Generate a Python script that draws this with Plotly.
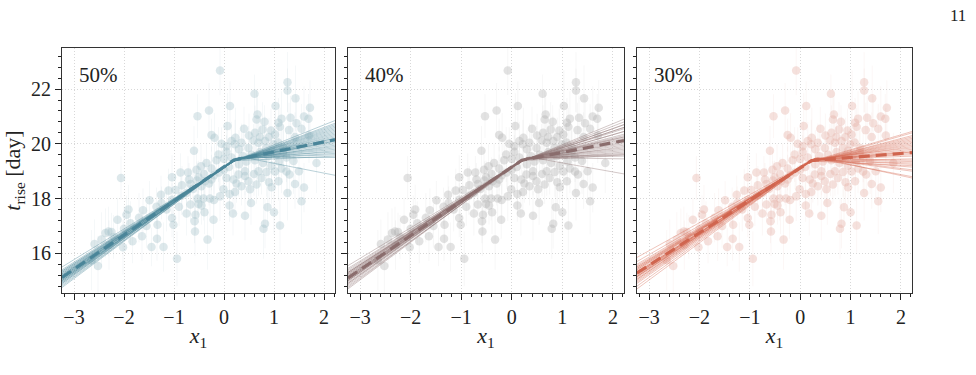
import plotly.graph_objects as go

# ---------------- data ----------------
panel_labels = ["50%", "40%", "30%"]
x_ticks = [-3, -2, -1, 0, 1, 2]
y_ticks = [16, 18, 20, 22]
x_range = [-3.24, 2.22]
y_range = [14.55, 23.5]

x1 = [
    -0.08, 1.27, 1.27, 1.43, 0.61, -0.30, 0.12, -0.53, 1.03, 1.72,
    1.69, 0.67, 0.65, 1.33, 0.81, 1.15, 1.09, 1.12, 0.07, 0.94,
    -0.25, -0.19, 0.77, 0.90, 1.02, 0.23, 0.22, 0.59, 0.49, 0.69,
    0.35, 0.05, 0.05, -0.11, -0.46, -0.35, 1.39, 1.42, 0.85, 0.99,
    1.19, -0.60,
    1.55, 1.12, 0.82, 0.79, 1.00, 0.87, 0.42, 0.11, 0.54, 1.27,
    1.42, -0.21, -0.39, -0.33, -0.58, 1.09, 0.95, 1.31, 0.65, 0.69,
    0.52, 0.22, 0.11, -0.01, -0.08, -0.28, -0.41, -0.53, 0.42, 0.29,
    0.85, 1.02, 1.25, 0.19, 0.05, 0.49, -0.51, -0.38, -0.25, 0.42,
    -2.06, -0.87, -0.72, -1.04, -0.84, -0.67, -0.54, -1.11, -0.97, -1.26,
    -1.25, -1.49, -1.62, -1.91, -1.95, -2.13, -2.31, -2.25, -1.87, -1.64,
    -1.83, -2.02, -1.45, -1.21, -1.34, -1.33, -0.94, -2.59, -2.52, -1.04,
    -1.01, -1.04, -0.57, -0.59, -0.67, -0.51, -2.37, -2.21,
    -0.75, -0.62, -0.45, -0.30, -0.20, -0.10, 0.00, 0.10, -0.40, -0.55,
    -0.25, -0.15, 0.00, 0.15, 0.30, 0.38, 0.45, 0.55, 0.62, 0.72,
    0.78, 0.88, 0.95, 1.05, 1.10, 1.18, 1.25, 0.30, 0.50, 0.62,
    0.72, 0.82, 0.95, 1.08, 1.30, 0.40, 0.15, -0.05, 0.25, 0.60,
    0.75, 0.35, 0.90, 1.15, 1.50, 1.60, -0.85, -0.70, -1.15, -1.35,
    -1.70, -1.55, -2.45, -2.65, -2.30, -2.00, -0.90, -0.75, -0.45, -0.20,
    0.18, 1.85, 1.70, 1.55, 1.45, 1.60,
]
t_rise = [
    22.68, 22.25, 21.95, 21.66, 21.83, 21.22, 21.38, 21.01, 21.38, 21.32,
    20.92, 21.07, 20.89, 20.95, 20.81, 20.92, 20.77, 20.62, 20.65, 20.49,
    20.32, 20.22, 20.52, 20.25, 20.34, 20.22, 19.98, 20.12, 19.85, 20.04,
    20.04, 19.91, 19.71, 19.61, 19.18, 19.30, 19.37, 20.25, 19.85, 19.98,
    19.85, 19.75,
    17.90, 17.02, 17.08, 16.90, 17.50, 17.68, 17.37, 17.75, 17.84, 18.20,
    18.53, 17.23, 17.50, 16.50, 16.80, 18.63, 18.41, 18.88, 18.51, 19.00,
    18.34, 18.24, 18.17, 18.34, 18.08, 18.00, 18.00, 18.00, 18.82, 18.88,
    18.97, 18.99, 18.99, 18.70, 18.75, 18.63, 18.78, 18.63, 18.70, 19.00,
    18.75, 18.95, 18.95, 18.78, 18.49, 18.53, 18.66, 18.29, 18.31, 18.14,
    17.84, 17.94, 17.57, 17.60, 17.41, 17.23, 16.80, 16.78, 17.10, 16.62,
    16.44, 16.22, 16.23, 16.23, 16.53, 17.04, 15.80, 16.34, 15.54, 17.29,
    17.04, 17.96, 17.41, 17.17, 17.78, 17.80, 16.74, 16.60,
    18.20, 18.35, 18.45, 18.55, 18.85, 18.95, 19.05, 19.15, 18.90, 19.05,
    19.10, 19.40, 19.45, 19.50, 19.25, 19.55, 19.35, 19.60, 19.40, 19.70,
    19.30, 19.55, 19.20, 19.60, 19.35, 19.70, 19.50, 19.80, 20.30, 20.40,
    20.25, 20.10, 19.75, 20.05, 20.50, 20.55, 20.10, 20.00, 18.55, 18.90,
    18.75, 18.45, 18.60, 19.10, 19.00, 18.40, 18.10, 18.70, 17.60, 17.70,
    17.30, 17.00, 16.50, 15.75, 16.30, 16.90, 17.70, 17.45, 17.75, 17.95,
    17.45, 19.30, 20.30, 20.55, 20.75, 21.00,
]
t_err = [
    0.9, 1.1, 0.8, 1.2, 0.7, 1.0, 0.9, 0.8, 1.3, 1.0,
    0.9, 0.7, 1.1, 0.8, 0.6, 1.0, 0.9, 0.7, 1.2, 0.8,
    0.6, 0.9, 1.0, 0.7, 0.8, 1.1, 0.9, 0.6, 0.8, 1.0,
    0.7, 0.9, 0.6, 1.0, 0.8, 0.7, 1.2, 0.9, 0.8, 0.6,
    0.7, 0.9,
    1.2, 1.0, 0.9, 1.1, 0.8, 0.7, 0.9, 0.6, 0.8, 1.0,
    0.9, 0.7, 0.8, 1.1, 0.9, 0.7, 0.6, 0.8, 0.7, 0.9,
    0.6, 0.8, 0.7, 0.6, 0.9, 0.7, 0.8, 0.6, 0.7, 0.8,
    0.9, 0.7, 0.8, 0.6, 0.7, 0.8, 0.6, 0.7, 0.9, 0.6,
    0.8, 0.7, 0.6, 0.8, 0.7, 0.6, 0.7, 0.8, 0.6, 0.7,
    0.6, 0.7, 0.8, 0.9, 0.7, 0.8, 0.9, 0.7, 0.8, 0.9,
    0.8, 1.0, 0.7, 0.9, 0.8, 0.7, 1.0, 0.9, 1.1, 0.7,
    0.8, 0.6, 0.7, 0.8, 0.6, 0.7, 0.9, 0.8,
    0.6, 0.7, 0.6, 0.8, 0.7, 0.6, 0.7, 0.8, 0.6, 0.7,
    0.8, 0.7, 0.6, 0.8, 0.7, 0.9, 0.7, 0.8, 0.6, 0.9,
    0.7, 0.8, 0.6, 0.9, 0.7, 0.8, 0.9, 0.7, 0.8, 1.0,
    0.7, 0.9, 0.8, 0.7, 1.0, 0.8, 0.7, 0.6, 0.7, 0.8,
    0.6, 0.7, 0.8, 0.9, 1.0, 0.9, 0.7, 0.6, 0.8, 0.7,
    0.9, 0.8, 1.0, 1.1, 0.9, 0.8, 0.7, 0.8, 0.7, 0.6,
    0.8, 1.1, 1.0, 0.9, 1.0, 1.1,
]

# posterior-sample broken lines: y at left edge, break x, break y, y at right edge
s50_yl = [15.10, 14.95, 15.25, 15.00, 15.35, 14.85, 15.20, 15.05, 15.40, 14.90,
          15.15, 15.30, 14.80, 15.00, 15.20, 15.10, 15.50, 14.95, 15.25, 15.05,
          14.75, 15.15, 15.35, 15.00, 15.10, 15.20, 14.90, 15.30, 15.05, 15.15]
s50_xb = [0.20, 0.15, 0.25, 0.10, 0.30, 0.20, 0.18, 0.22, 0.28, 0.12,
          0.20, 0.24, 0.16, 0.30, 0.20, 0.10, 0.35, 0.22, 0.18, 0.26,
          0.14, 0.20, 0.30, 0.24, 0.16, 0.20, 0.12, 0.28, 0.22, 0.18]
s50_yb = [19.40, 19.35, 19.45, 19.30, 19.50, 19.38, 19.42, 19.40, 19.48, 19.32,
          19.40, 19.45, 19.36, 19.50, 19.42, 19.30, 19.52, 19.40, 19.38, 19.46,
          19.34, 19.40, 19.48, 19.44, 19.36, 19.42, 19.32, 19.46, 19.40, 19.38]
s50_yr = [20.15, 20.40, 19.90, 20.60, 19.70, 20.85, 20.00, 20.30, 19.60, 20.70,
          20.10, 19.80, 20.50, 19.50, 20.20, 20.75, 18.85, 20.35, 19.95, 20.05,
          20.55, 19.75, 20.25, 19.65, 20.45, 20.10, 20.65, 19.85, 20.20, 19.55]

s40_yl = [15.05, 14.90, 15.30, 15.00, 15.40, 14.80, 15.20, 15.10, 15.55, 14.85,
          15.15, 15.25, 14.75, 15.05, 15.20, 15.10, 15.45, 14.95, 15.30, 15.00,
          14.70, 15.15, 15.35, 15.05, 15.10, 15.25, 14.90, 15.30, 15.00, 15.15]
s40_xb = [0.20, 0.14, 0.26, 0.10, 0.30, 0.20, 0.18, 0.22, 0.30, 0.12,
          0.20, 0.24, 0.16, 0.28, 0.20, 0.10, 0.34, 0.22, 0.18, 0.26,
          0.14, 0.20, 0.30, 0.24, 0.16, 0.20, 0.12, 0.28, 0.22, 0.18]
s40_yb = [19.40, 19.34, 19.46, 19.30, 19.50, 19.36, 19.42, 19.40, 19.50, 19.32,
          19.40, 19.44, 19.36, 19.48, 19.42, 19.30, 19.52, 19.40, 19.38, 19.46,
          19.34, 19.40, 19.48, 19.44, 19.36, 19.42, 19.32, 19.46, 19.40, 19.38]
s40_yr = [20.10, 20.45, 19.85, 20.60, 19.60, 20.90, 19.95, 20.30, 19.45, 20.70,
          20.05, 19.75, 20.55, 19.55, 20.20, 20.80, 18.90, 20.35, 19.90, 20.00,
          20.60, 19.70, 20.25, 19.65, 20.45, 20.15, 20.70, 19.80, 20.25, 19.60]

s30_yl = [15.25, 15.05, 15.45, 15.10, 15.60, 14.90, 15.35, 15.20, 15.85, 14.95,
          15.30, 15.50, 14.80, 15.15, 15.40, 15.25, 15.70, 15.00, 15.45, 15.15,
          14.70, 15.30, 15.55, 15.20, 15.25, 15.40, 15.05, 15.50, 15.15, 15.30]
s30_xb = [0.23, 0.18, 0.28, 0.14, 0.32, 0.22, 0.20, 0.25, 0.30, 0.15,
          0.23, 0.27, 0.19, 0.30, 0.22, 0.14, 0.35, 0.24, 0.20, 0.28,
          0.17, 0.23, 0.31, 0.26, 0.19, 0.22, 0.15, 0.29, 0.24, 0.20]
s30_yb = [19.39, 19.34, 19.44, 19.30, 19.48, 19.36, 19.41, 19.39, 19.47, 19.31,
          19.39, 19.44, 19.35, 19.48, 19.41, 19.30, 19.50, 19.39, 19.37, 19.45,
          19.33, 19.39, 19.46, 19.43, 19.35, 19.41, 19.31, 19.45, 19.39, 19.37]
s30_yr = [19.70, 20.10, 19.35, 20.30, 19.05, 20.45, 19.55, 19.90, 18.80, 20.20,
          19.65, 19.25, 20.05, 19.00, 19.80, 20.40, 18.75, 19.95, 19.45, 19.60,
          20.25, 19.30, 19.85, 19.15, 20.00, 19.70, 20.15, 19.40, 19.75, 19.20]

# mean fits: y at left edge, break x, break y, y at right edge
mean_yl = [15.12, 15.10, 15.28]
mean_xb = [0.20, 0.20, 0.23]
mean_yb = [19.41, 19.40, 19.39]
mean_yr = [20.15, 20.12, 19.68]

samples = [
    (s50_yl, s50_xb, s50_yb, s50_yr),
    (s40_yl, s40_xb, s40_yb, s40_yr),
    (s30_yl, s30_xb, s30_yb, s30_yr),
]

# ---------------- styles ----------------
point_colors = ["rgba(165,195,203,0.38)", "rgba(180,180,180,0.38)", "rgba(228,176,166,0.38)"]
err_colors = ["rgba(160,190,198,0.10)", "rgba(178,178,178,0.10)", "rgba(226,172,162,0.10)"]
sample_colors = ["rgba(74,133,153,0.38)", "rgba(140,110,110,0.38)", "rgba(212,102,80,0.38)"]
mean_colors = ["#4a8599", "#8a6d6d", "#d0654f"]

FONT = "Liberation Serif, Times New Roman, serif"
W, H = 976, 375
x_domains = [[62 / W, 335 / W], [348 / W, 624 / W], [637 / W, 912 / W]]
y_domain = [1 - 293 / H, 1 - 48 / H]

fig = go.Figure()

for i in range(3):
    xa = "x" if i == 0 else f"x{i+1}"
    ya = "y" if i == 0 else f"y{i+1}"
    fig.add_trace(go.Scatter(
        x=x1, y=t_rise, mode="markers",
        marker=dict(size=8.5, color=point_colors[i], line=dict(width=0)),
        error_y=dict(type="data", array=t_err, visible=True,
                     color=err_colors[i], thickness=1, width=0),
        xaxis=xa, yaxis=ya, showlegend=False, hoverinfo="skip",
    ))
    yl, xb, yb, yr = samples[i]
    for k in range(len(yl)):
        fig.add_trace(go.Scatter(
            x=[x_range[0], xb[k], x_range[1]], y=[yl[k], yb[k], yr[k]],
            mode="lines", line=dict(color=sample_colors[i], width=1),
            xaxis=xa, yaxis=ya, showlegend=False, hoverinfo="skip",
        ))
    fig.add_trace(go.Scatter(
        x=[x_range[0], mean_xb[i], x_range[1]],
        y=[mean_yl[i], mean_yb[i], mean_yr[i]],
        mode="lines", line=dict(color=mean_colors[i], width=3.2, dash="11px,6px"),
        xaxis=xa, yaxis=ya, showlegend=False, hoverinfo="skip",
    ))

axis_common = dict(
    showline=True, mirror=True, linecolor="#333", linewidth=1.2,
    ticks="outside", ticklen=6, tickwidth=1.2, tickcolor="#222",
    showgrid=True, gridcolor="#d8d8d8", griddash="1px,2px", gridwidth=0.8,
    zeroline=False,
    tickfont=dict(family=FONT, size=20, color="#222"),
)

layout_axes = {}
for i in range(3):
    xk = "xaxis" if i == 0 else f"xaxis{i+1}"
    yk = "yaxis" if i == 0 else f"yaxis{i+1}"
    layout_axes[xk] = dict(
        axis_common, domain=x_domains[i], range=x_range,
        tickmode="array", tickvals=x_ticks,
        anchor="y" if i == 0 else f"y{i+1}",
        minor=dict(ticks="outside", ticklen=3, tickwidth=1, tickcolor="#222",
                   dtick=0.2, tick0=0, showgrid=False),
        title=dict(text="<i>x</i><sub>1</sub>", font=dict(family=FONT, size=22, color="#222"),
                   standoff=0),
    )
    layout_axes[yk] = dict(
        axis_common, domain=y_domain, range=y_range,
        tickmode="array", tickvals=y_ticks,
        anchor="x" if i == 0 else f"x{i+1}",
        showticklabels=(i == 0),
        minor=dict(ticks="outside", ticklen=3, tickwidth=1, tickcolor="#222",
                   dtick=0.4, tick0=0, showgrid=False),
    )
layout_axes["yaxis"]["title"] = dict(
    text="<i>t</i><sub>rise</sub> [day]", font=dict(family=FONT, size=22, color="#222"),
    standoff=10)

annotations = []
for i in range(3):
    xa = "x" if i == 0 else f"x{i+1}"
    annotations.append(dict(
        text=panel_labels[i], xref=f"{xa} domain", yref="y domain" if i == 0 else f"y{i+1} domain",
        x=0.055, y=0.89, xanchor="left", yanchor="middle", showarrow=False,
        font=dict(family=FONT, size=21, color="#222"),
    ))
annotations.append(dict(
    text="11", xref="paper", yref="paper", x=958 / W, y=1 - 15 / H,
    xanchor="center", yanchor="middle", showarrow=False,
    font=dict(family=FONT, size=17, color="#222"),
))

fig.update_layout(
    width=W, height=H, autosize=False,
    margin=dict(l=0, r=0, t=0, b=0),
    paper_bgcolor="white", plot_bgcolor="white",
    font=dict(family=FONT),
    annotations=annotations,
    **layout_axes,
)

fig.write_html("out.html")
